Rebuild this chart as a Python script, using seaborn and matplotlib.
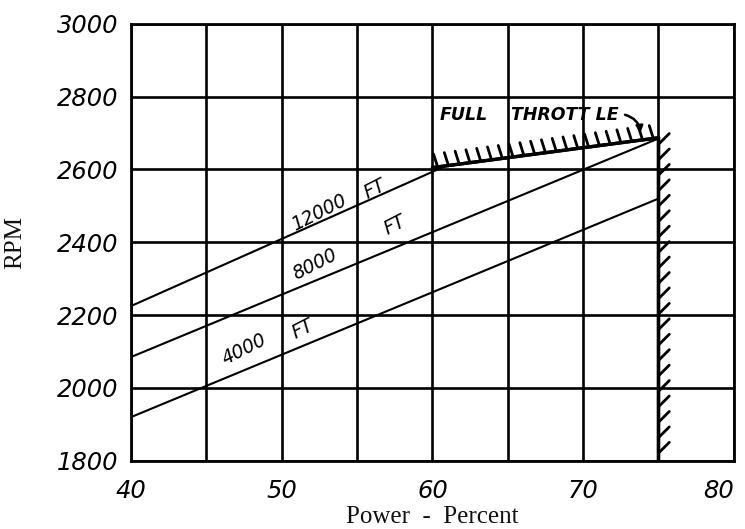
import numpy as np
import pandas as pd
import matplotlib
matplotlib.use("Agg")
import matplotlib.pyplot as plt
import matplotlib.patheffects as pe
import seaborn as sns

# ---- data ----
altitudes = ["12000 FT", "8000 FT", "4000 FT"]
power_12000 = [40, 61]
rpm_12000 = [2225, 2612]
power_8000 = [40, 75]
rpm_8000 = [2085, 2685]
power_4000 = [40, 75]
rpm_4000 = [1920, 2520]

throttle_power = [60, 75]
throttle_rpm = [2605, 2687]
limit_power = [75, 75]
limit_rpm = [2690, 1800]

x_ticks = [40, 50, 60, 70, 80]
x_minor = [45, 55, 65, 75]
y_ticks = [1800, 2000, 2200, 2400, 2600, 2800, 3000]

df = pd.DataFrame({
    "power": power_12000 + power_8000 + power_4000,
    "rpm": rpm_12000 + rpm_8000 + rpm_4000,
    "alt": [altitudes[0]] * 2 + [altitudes[1]] * 2 + [altitudes[2]] * 2,
})

sns.set_style("white")
plt.rcParams["font.family"] = ["DejaVu Sans"]

fig = plt.figure(figsize=(7.45, 5.29), dpi=100)
ax = fig.add_axes([0.176, 0.129, 0.809, 0.826])

sns.lineplot(data=df, x="power", y="rpm", units="alt", estimator=None,
             color="black", linewidth=1.5, legend=False, ax=ax)

# full-throttle boundary with hatch ticks
ax.plot(throttle_power, throttle_rpm, color="black", linewidth=2.4,
        path_effects=[pe.withTickedStroke(angle=100, spacing=7.5, length=1.3, linewidth=2.0),
                      pe.Normal()])
ax.plot(limit_power, limit_rpm, color="black", linewidth=2.4,
        path_effects=[pe.withTickedStroke(angle=135, spacing=11, length=1.0, linewidth=2.0),
                      pe.Normal()])

ax.set_xlim(40, 80)
ax.set_ylim(1800, 3000)
ax.set_xticks(x_ticks)
ax.set_xticks(x_minor, minor=True)
ax.set_yticks(y_ticks)
ax.grid(True, which="both", color="black", linewidth=1.9)
ax.set_axisbelow(True)
for s in ax.spines.values():
    s.set_visible(True)
    s.set_color("black")
    s.set_linewidth(2)

ax.tick_params(axis="both", which="both", direction="out", length=6, width=1.8,
               color="black")
ax.tick_params(axis="x", which="major", pad=7)
ax.tick_params(axis="y", which="major", pad=3)
for lab in ax.get_xticklabels() + ax.get_yticklabels():
    lab.set_fontsize(17.5)
    lab.set_fontstyle("italic")
    lab.set_color("black")
xl = ax.get_xticklabels()
xl[-1].set_horizontalalignment("right")
xl[-1].set_x(80.6)

ax.set_xlabel("Power  -  Percent", family="Liberation Serif", fontsize=18,
              labelpad=2, color="#111111")
ax.set_ylabel("RPM", family="Liberation Serif", fontsize=18, labelpad=22,
              color="#111111")

# inline annotations
txt = dict(color="black", fontsize=13.5, ha="center", va="center",
           fontstyle="italic")
ax.text(52.5, 2482, "12000", rotation=27, **txt)
ax.text(56.2, 2545, "FT", rotation=27, **txt)
ax.text(52.2, 2340, "8000", rotation=27, **txt)
ax.text(57.5, 2447, "FT", rotation=27, **txt)
ax.text(47.5, 2105, "4000", rotation=27, **txt)
ax.text(51.4, 2163, "FT", rotation=27, **txt)
ttxt = dict(color="black", fontsize=12.5, ha="left", va="center",
            fontstyle="italic", fontweight="bold")
ax.text(60.5, 2750, "FULL", **ttxt)
ax.text(65.2, 2750, "THROTT LE", **ttxt)
ax.annotate("", xy=(73.8, 2692), xytext=(72.6, 2752),
            arrowprops=dict(arrowstyle="-|>", color="black", lw=1.8,
                            connectionstyle="arc3,rad=-0.4", mutation_scale=10))

fig.savefig("out.png", dpi=100, facecolor="white")
